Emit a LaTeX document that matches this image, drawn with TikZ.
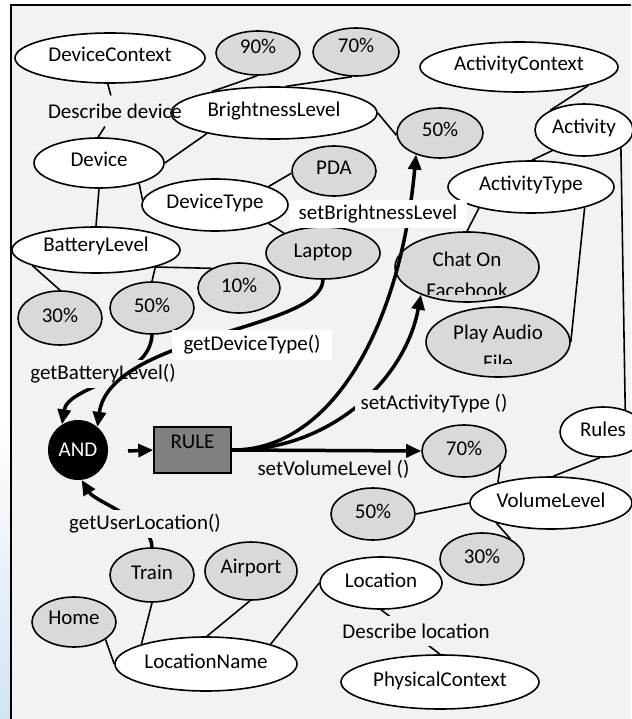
\documentclass[tikz,border=0pt]{standalone}
\usepackage{fontspec}
\setmainfont{Carlito}
\usetikzlibrary{shapes.geometric,arrows.meta}

\definecolor{canvas}{HTML}{F2F2F2}
\definecolor{valuefill}{HTML}{D9D9D9}
\definecolor{rulefill}{HTML}{808080}
\definecolor{edgeblue}{HTML}{D2E3F4}

\begin{document}
\begin{tikzpicture}[x=1pt,y=-1pt,
  font=\fontsize{21}{25}\selectfont,
  every node/.style={inner sep=0pt},
  concept/.style 2 args={ellipse,draw,line width=1.6pt,fill=white,
    minimum width=#1pt,minimum height=#2pt,text height=14pt,text depth=6pt},
  value/.style 2 args={concept={#1}{#2},fill=valuefill},
  raise/.style={text depth=#1},
  link/.style={line width=1.6pt},
  call/.style={line width=3.5pt,-{Triangle[length=15pt,width=13pt]}},
  tag/.style={fill=white,inner xsep=10pt,inner ysep=5pt},
  plaintag/.style={fill=canvas,inner xsep=6pt,inner ysep=5pt},
  note/.style={inner xsep=3pt,inner ysep=8pt}]

% page, frame and left margin strip
\useasboundingbox (0,0) rectangle (631,719);
\fill[white] (0,0) rectangle (11,719);
\shade[top color=white,bottom color=edgeblue] (0,420) rectangle (11,719);
\fill[canvas] (11,5) rectangle (631,719);
\draw[line width=2pt] (11,719) -- (11,5) -- (631,5);

% device context
\node[concept={190}{50}] (dctx) at (110,58) {DeviceContext};
\node[concept={130}{50}] (dev) at (99,163) {Device};
\node[value={84}{44},raise=12pt] (p90) at (258,53) {90\%};
\node[value={86}{48},raise=12pt] (p70b) at (356,52) {70\%};
\node[concept={206}{52}] (bright) at (274,113) {BrightnessLevel};
\node[note] (lbldesc) at (115,111) {Describe device};
\draw[link] (dctx.265) -- (lbldesc) -- (dev.92);

\node[value={86}{50}] (b50) at (440,133) {50\%};
\node[value={84}{50}] (pda) at (334,171) {PDA};
\node[concept={146}{52}] (dtype) at (215,205) {DeviceType};
\node[concept={168}{46},raise=12pt] (batt) at (96,250) {BatteryLevel};
\node[value={114}{52}] (laptop) at (323,253) {Laptop};
\node[value={82}{50}] (t10) at (239,288) {10\%};
\node[value={84}{54}] (c30) at (60,318) {30\%};
\node[value={84}{52}] (c50) at (152,308) {50\%};

% activity context
\node[concept={198}{50}] (actx) at (519,67) {ActivityContext};
\node[concept={98}{52}] (act) at (584,130) {Activity};
\node[concept={166}{52}] (atype) at (531,187) {ActivityType};
\node[value={144}{70}] (chat) at (467,267) {};
\node[value={144}{70}] (play) at (498,342) {};
\begin{scope}
  \clip (380,225) rectangle (560,294.5);
  \node[anchor=base] (chatA) at (467,266) {Chat On};
  \node[anchor=base] (chatB) at (467,297.5) {Facebook};
\end{scope}
\begin{scope}
  \clip (410,300) rectangle (590,363.5);
  \node[anchor=base] (playA) at (498,339.5) {Play Audio};
  \node[anchor=base] (playB) at (498,369) {File};
\end{scope}

% rule engine
\node[circle,fill=black,minimum size=60pt,text=white] (and) at (78,450) {AND};
\node[draw,line width=1.5pt,fill=rulefill,minimum width=77pt,minimum height=46pt,
      text height=13.5pt,text depth=17.5pt] (rule) at (192.5,450) {RULE};

% volume and rules
\node[value={84}{52}] (v70) at (464,451) {70\%};
\node[concept={86}{50}] (rules) at (603,432) {Rules};
\node[concept={162}{52}] (vlevel) at (551,503) {VolumeLevel};
\node[value={84}{52}] (v50) at (373,514) {50\%};
\node[value={84}{52}] (v30) at (482,559) {30\%};

% physical context
\node[concept={122}{52}] (loc) at (381,583) {Location};
\node[concept={198}{54}] (physctx) at (440,682) {PhysicalContext};
\node[value={84}{54}] (train) at (152,575) {Train};
\node[value={92}{58},raise=10pt] (airport) at (251,571) {Airport};
\node[value={84}{50},raise=10pt] (home) at (74,622) {Home};
\node[concept={182}{54}] (lname) at (206,664) {LocationName};

% ontology links
\draw[link] (dev.east) -- (bright.197);
\draw[link] (bright.161) -- (p90.268);
\draw[link] (bright.66) -- (p70b.261);
\draw[link] (bright.east) -- (b50.183);
\draw[link] (dev.333) -- (dtype.176);
\draw[link] (dtype.19) -- (pda.183);
\draw[link] (dtype.341) -- (laptop.153);
\draw[link] (dev.south) -- (batt.north);
\draw[link] (batt.194) -- (c30.north);
\draw[link] (batt.344) -- (c50.north);
\draw[link] (batt.344) -- (t10.144);
\draw[link] (actx.345) -- (act.150);
\draw[link] (act.213) -- (atype.88);
\draw[link] (act.334) -- (rules.45);
\draw[link] (atype.202) -- (chat.90);
\draw[link] (atype.339) -- (play.east);
\draw[link] (v70.339) -- (vlevel.159);
\draw[link] (rules.263) -- (vlevel.85);
\draw[link] (vlevel.west) -- (v50.east);
\draw[link] (vlevel.200) -- (v30.35);
\draw[link] (loc.west) -- (lname.17);
\draw[link] (loc.south) -- (physctx.north);
\node[note,fill=canvas] (lblplace) at (416,631) {Describe location};
\draw[link] (home.331) -- (lname.west);
\draw[link] (train.south) -- (lname.163);
\draw[link] (airport.268) -- (lname.88);

% method calls
\draw[call] (c50.south) .. controls (150,380) and (68,385) .. (and.122);
\node[plaintag] (lblbatt) at (103,374) {getBatteryLevel()};
\draw[call] (laptop.south) .. controls (322,330) and (110,335) .. (and.50);
\node[tag,inner xsep=12pt,inner ysep=6pt] (lbldev) at (252,345) {getDeviceType()};

\draw[call] (rule.east) .. controls (330,451) and (400,330) .. (b50.222);
\node[tag] (lblbright) at (378,214) {setBrightnessLevel};
\draw[call] (rule.east) .. controls (330,451) and (405,380) .. (chat.211);
\node[plaintag] (lblact) at (434,404) {setActivityType ()};
\draw[call] (rule.east) -- (v70.west);
\node (lblvol) at (333.5,469) {setVolumeLevel ()};

\draw[call] (train.north) .. controls (152,520) and (95,502) .. (and.277);
\node[plaintag] (lblloc) at (145,524) {getUserLocation()};

\coordinate (feed) at (128,451);
\draw[call] (feed) -- (rule.west);
\end{tikzpicture}
\end{document}
